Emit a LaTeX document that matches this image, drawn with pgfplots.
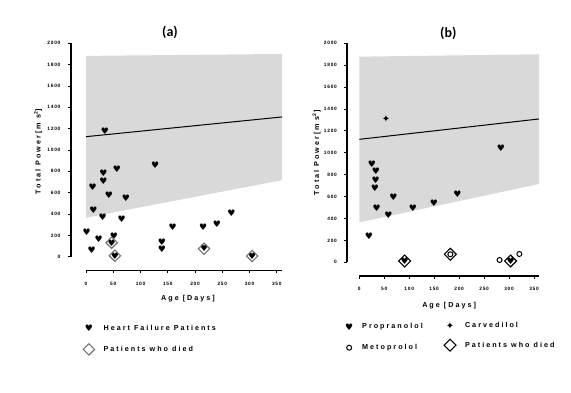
\documentclass[border=0pt]{standalone}
\usepackage{fontspec}
\setmainfont{Liberation Sans}
\newfontfamily\spfont[LetterSpace=28]{Liberation Sans}
\newfontfamily\tkfont[LetterSpace=15]{Liberation Sans}
\newfontfamily\calfont{Carlito}
\newfontfamily\djfont{DejaVu Sans}
\usepackage{pgfplots}
\pgfplotsset{compat=1.18}
\newcommand{\lblfont}{\spfont\bfseries\fontsize{7.2}{8}\selectfont}
\pgfplotsset{
  base/.style={
    scale only axis, anchor=south west, clip=false,
    axis line style={draw=none, -},
    every tick/.style={draw=none},
    ticklabel style={font=\tkfont\bfseries\fontsize{4.8}{5}\selectfont},
  },
  yonly/.style={base, xmin=0, xmax=1, ymin=0, ymax=2000,
    axis y line=left, axis x line=none, xtick=\empty, ytick={0,200,...,2000},
    yticklabels={0,200,400,600,800,1000,1200,1400,1600,1800,2000},
    ylabel={Total Power[m s\textsuperscript{2}]}},
  xonly/.style={base, xmin=0, xmax=360, ymin=0, ymax=1, height=10pt,
    axis x line=bottom, axis y line=none, ytick=\empty, xtick={0,50,...,350},
    xticklabels={0,50,100,150,200,250,300,350},
    xlabel={Age [Days]}},
  data/.style={scale only axis, anchor=south west, clip=false, hide axis,
    xmin=0, xmax=360, ymin=0, ymax=2000,
    legend cell align=left,
    legend style={draw=none, fill=none, inner sep=0pt, row sep=10pt,
      font=\lblfont, /tikz/every odd column/.append style={column sep=7pt}},
  },
  axl/.style={black, line width=1.1pt, forget plot},
  tkl/.style={black, line width=0.9pt, forget plot},
  heart/.style={only marks, mark=text, text mark={\djfont\fontsize{9}{9}\selectfont ♥}},
  carv/.style={only marks, mark=text, text mark={\djfont\bfseries\fontsize{10}{10}\selectfont ✦}},
  diedb/.style={only marks, mark=square, mark size=4.2pt, mark options={rotate=45, draw=black, line width=1.1pt}},
}
\begin{document}
\begin{tikzpicture}
\useasboundingbox (0pt,0pt) rectangle (571pt,392pt);
% ---------------- panel (a)
\begin{axis}[yonly, at={(71pt,135.3pt)}, width=15pt, height=213.4pt,
  yticklabel style={xshift=-5pt},
  every axis y label/.style={at={(axis description cs:0,0.492)}, xshift=-33pt, rotate=90, anchor=center, font=\lblfont}]
\end{axis}
\begin{axis}[xonly, at={(86pt,121.8pt)}, width=196.2pt,
  xticklabel style={yshift=-6pt},
  every axis x label/.style={at={(axis description cs:0.52,0)}, yshift=-28pt, anchor=center, font=\lblfont}]
\end{axis}
\begin{axis}[data, at={(86pt,135.3pt)}, width=196.2pt, height=213.4pt,
  legend style={at={(axis description cs:-0.015,-0.31)}, anchor=north west}]
\addplot[fill=gray!30, draw=none, forget plot] coordinates {(0,365)(360,718)(360,1900)(0,1882)} -- cycle;
\addplot[black, line width=1pt, forget plot] coordinates {(0,1125)(360,1310)};
% offset axis lines and ticks (Prism style)
\addplot[axl] coordinates {(-27.5,0)(-27.5,2000)};
\pgfplotsinvokeforeach{0,200,...,2000}{\addplot[tkl] coordinates {(-27.5,#1)(-33.6,#1)};}
\addplot[axl] coordinates {(0,-126.5)(360,-126.5)};
\pgfplotsinvokeforeach{0,50,...,350}{\addplot[tkl] coordinates {(#1,-126.5)(#1,-157.4)};}
\addplot[heart] coordinates {
(34.9,1178)(12.2,650)(31.8,781)(31.8,703)(56.9,819)(127,856)(42.2,578)(73.4,550)
(13.5,431)(30.6,369)(65.5,350)(1.2,228)(23.3,162)(51.4,194)(10.4,59)(139.5,134)
(139.5,69)(159,272)(214.8,278)(240,309)(266.8,403)
(47,131)(53,9)(216.6,75)(305,6)};
\addlegendentry{Heart Failure Patients}
\addplot[only marks, mark=square, mark size=4pt, mark options={rotate=45, draw=black!55, line width=1.1pt}] coordinates {
(47,131)(53,9)(216.6,75)(305,6)};
\addlegendentry{Patients who died}
\end{axis}
% ---------------- panel (b)
\begin{axis}[yonly, at={(347pt,129.7pt)}, width=12.3pt, height=219pt,
  yticklabel style={xshift=-4.5pt},
  every axis y label/.style={at={(axis description cs:0,0.5)}, xshift=-30.3pt, rotate=90, anchor=center, font=\lblfont}]
\end{axis}
\begin{axis}[xonly, at={(359.3pt,116pt)}, width=179.7pt,
  xticklabel style={yshift=-5pt},
  every axis x label/.style={at={(axis description cs:0.5,0)}, yshift=-29.7pt, anchor=center, font=\lblfont}]
\end{axis}
\begin{axis}[data, at={(359.3pt,129.7pt)}, width=179.7pt, height=219pt,
  legend style={at={(axis description cs:-0.08,-0.27)}, anchor=north west}]
\addplot[fill=gray!30, draw=none, forget plot] coordinates {(0,365)(360,715)(360,1900)(0,1878)} -- cycle;
\addplot[black, line width=1pt, forget plot] coordinates {(0,1123)(360,1309)};
% offset axis lines and ticks (Prism style)
\addplot[axl] coordinates {(-24.6,0)(-24.6,2000)};
\pgfplotsinvokeforeach{0,200,...,2000}{\addplot[tkl] coordinates {(-24.6,#1)(-31.2,#1)};}
\addplot[axl] coordinates {(0,-125.1)(360,-125.1)};
\pgfplotsinvokeforeach{0,50,...,350}{\addplot[tkl] coordinates {(#1,-125.1)(#1,-155.2)};}
\addplot[heart] coordinates {
(25.4,892)(33.4,834)(32.7,749)(31.4,673)(34.7,493)(68.1,591)(58.1,432)(107.5,490)
(149.6,542)(196.4,618)(283.9,1038)(19.4,234)(90.8,12)(303,12)};
\addlegendentry{Propranolol}
\addplot[carv, forget plot] coordinates {(53.4,1309)};
\addplot[only marks, mark=o, mark size=2.5pt, mark options={black, line width=1pt}] coordinates {
(281,21)(320.6,76)(182.4,73)};
\addlegendentry{Metoprolol}
\addplot[diedb, forget plot] coordinates {(90.8,12)(182.4,73)(303,12)};
\end{axis}
% second legend column of panel (b)
\begin{axis}[data, at={(359.3pt,129.7pt)}, width=179.7pt, height=219pt,
  legend style={at={(axis description cs:0.471,-0.265)}, anchor=north west, row sep=8pt}]
\addlegendimage{carv}
\addlegendentry{Carvedilol}
\addlegendimage{diedb}
\addlegendentry{Patients who died}
\end{axis}
\node[font=\calfont\bfseries\fontsize{14}{16}\selectfont] at (170pt,360pt) {(a)};
\node[font=\calfont\bfseries\fontsize{14}{16}\selectfont] at (448.3pt,358.7pt) {(b)};
\end{tikzpicture}
\end{document}
